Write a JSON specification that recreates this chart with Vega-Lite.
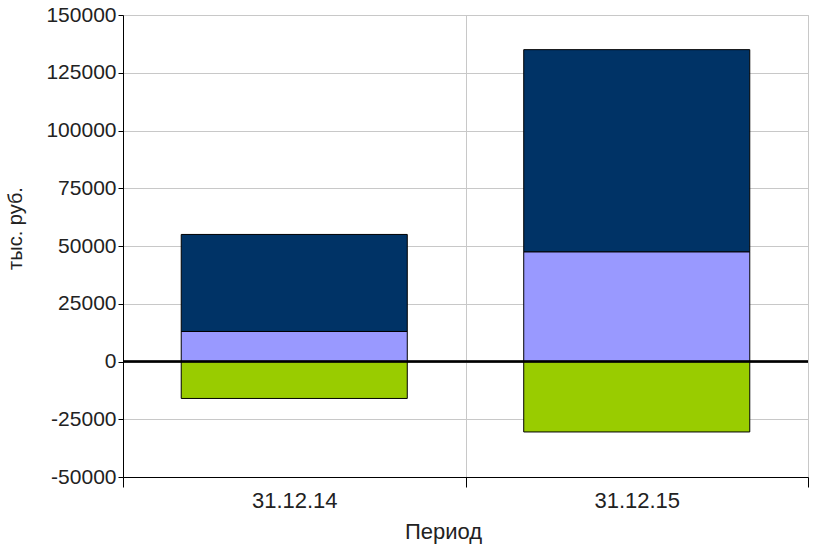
{
  "$schema": "https://vega.github.io/schema/vega-lite/v6.json",
  "width": 685,
  "height": 462,
  "autosize": {"type": "none"},
  "padding": {"left": 123, "top": 15, "right": 15, "bottom": 72},
  "background": "white",
  "config": {
    "view": {"stroke": "#c8c8c8", "strokeWidth": 1},
    "font": "Liberation Sans"
  },
  "data": {
    "values": [
      {"period": "31.12.14", "series": "Серия 1", "value": 13000, "ord": 1},
      {"period": "31.12.14", "series": "Серия 2", "value": 42000, "ord": 2},
      {"period": "31.12.14", "series": "Серия 3", "value": -16000, "ord": 0},
      {"period": "31.12.15", "series": "Серия 1", "value": 47500, "ord": 1},
      {"period": "31.12.15", "series": "Серия 2", "value": 87500, "ord": 2},
      {"period": "31.12.15", "series": "Серия 3", "value": -30500, "ord": 0}
    ]
  },
  "layer": [
    {
      "mark": {"type": "bar", "stroke": "#000000", "strokeWidth": 1, "width": {"band": 0.66}},
      "encoding": {
        "x": {
          "field": "period",
          "type": "nominal",
          "title": "Период",
          "scale": {"paddingInner": 0, "paddingOuter": 0},
          "axis": {
            "labelAngle": 0,
            "labelFontSize": 22,
            "labelColor": "#222222",
            "titleFontSize": 22,
            "titleFontWeight": "normal",
            "titleColor": "#222222",
            "titlePadding": 10,
            "titleX": 320,
            "tickSize": 10,
            "tickColor": "#000000",
            "domainColor": "#000000",
            "labelPadding": 3,
            "grid": true,
            "gridColor": "#c8c8c8",
            "tickBand": "extent"
          }
        },
        "y": {
          "field": "value",
          "type": "quantitative",
          "stack": "zero",
          "title": "тыс. руб.",
          "scale": {"domain": [-50000, 150000], "nice": false},
          "axis": {
            "values": [-50000, -25000, 0, 25000, 50000, 75000, 100000, 125000, 150000],
            "labelExpr": "'' + datum.value",
            "labelFontSize": 21,
            "labelColor": "#222222",
            "titleFontSize": 20,
            "titleFontWeight": "normal",
            "titleColor": "#222222",
            "titlePadding": 20,
            "titleY": 213,
            "tickSize": 5,
            "tickColor": "#000000",
            "domainColor": "#000000",
            "labelPadding": 2,
            "gridColor": "#c8c8c8"
          }
        },
        "color": {
          "field": "series",
          "type": "nominal",
          "scale": {"domain": ["Серия 1", "Серия 2", "Серия 3"], "range": ["#9999ff", "#003366", "#99cc00"]},
          "legend": null
        },
        "order": {"field": "ord", "type": "quantitative"}
      }
    },
    {
      "mark": {"type": "rule", "color": "#000000", "strokeWidth": 1.5},
      "encoding": {"y": {"datum": 0}}
    }
  ]
}
